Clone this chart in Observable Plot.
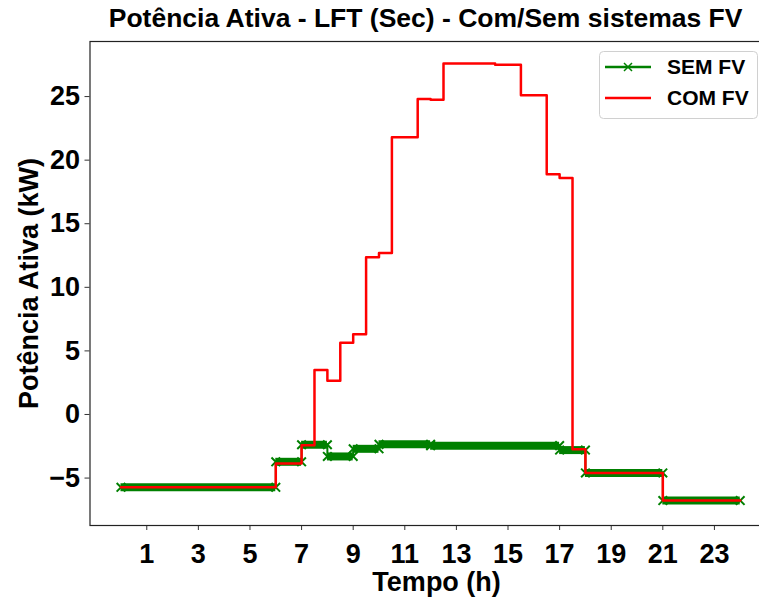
<!DOCTYPE html>
<html>
<head>
<meta charset="utf-8">
<script src="https://cdn.jsdelivr.net/npm/d3@7"></script>
<script src="https://cdn.jsdelivr.net/npm/@observablehq/plot@0.6"></script>
<style>
  html, body { margin: 0; padding: 0; background: white; overflow: hidden; }
  #wrap { position: relative; width: 759px; height: 606px; overflow: hidden; }
  #wrap > svg { max-width: none !important; width: 771px; height: 606px; }
  #legend { position: absolute; left: 599px; top: 51px; }
</style>
</head>
<body>
<div id="wrap"></div>
<script>
// ---- data (hours, half-hour steps) ----
const hours = [0,0.5,1,1.5,2,2.5,3,3.5,4,4.5,5,5.5,6,6.5,7,7.5,8,8.5,9,9.5,10,10.5,11,11.5,12,12.5,13,13.5,14,14.5,15,15.5,16,16.5,17,17.5,18,18.5,19,19.5,20,20.5,21,21.5,22,22.5,23,23.5,24];
const semFV = [-5.73,-5.73,-5.73,-5.73,-5.73,-5.73,-5.73,-5.73,-5.73,-5.73,-5.73,-5.73,
  -3.72,-3.72,-2.38,-2.38,-3.3,-3.3,-2.7,-2.7,-2.35,-2.35,-2.35,-2.35,
  -2.45,-2.45,-2.45,-2.45,-2.45,-2.45,-2.45,-2.45,-2.45,-2.45,-2.8,-2.8,
  -4.6,-4.6,-4.6,-4.6,-4.6,-4.6,-6.77,-6.77,-6.77,-6.77,-6.77,-6.77,-6.77];
const comFV = [-5.73,-5.73,-5.73,-5.73,-5.73,-5.73,-5.73,-5.73,-5.73,-5.73,-5.73,-5.73,
  -3.85,-3.85,-2.42,3.5,2.65,5.65,6.3,12.37,12.7,21.8,21.8,24.8,
  24.75,27.6,27.6,27.6,27.6,27.5,27.5,25.1,25.1,18.9,18.6,-2.73,
  -4.6,-4.6,-4.6,-4.6,-4.6,-4.6,-6.77,-6.77,-6.77,-6.77,-6.77,-6.77,-6.77];
const xTicks = [1,3,5,7,9,11,13,15,17,19,21,23];
const yTicks = [-5,0,5,10,15,20,25];
const seriesNames = ["SEM FV", "COM FV"];
const seriesColors = ["#008000", "#ff0000"];
const titleText = "Potência Ativa - LFT (Sec) - Com/Sem sistemas FV";
const xLabel = "Tempo (h)";
const yLabel = "Potência Ativa (kW)";

// ---- tables built from the arrays ----
const semPts = hours.map((h, i) => ({h, v: semFV[i]}));
const comPts = hours.map((h, i) => ({h, v: comFV[i]}));
// runs of constant value for the SEM FV marker band
const runs = [];
for (let i = 0; i < hours.length - 1; i++) {
  const last = runs[runs.length - 1];
  if (last && last.v === semFV[i]) last.x2 = hours[i + 1];
  else runs.push({x1: hours[i], x2: hours[i + 1], v: semFV[i]});
}
const runEnds = runs.flatMap(r => [{h: r.x1, v: r.v}, {h: r.x2, v: r.v}]);

const FONT = "'Liberation Sans', Arial, Helvetica, sans-serif";

const chart = Plot.plot({
  width: 771,
  height: 606,
  marginLeft: 89.5,
  marginRight: 0.3,
  marginTop: 41,
  marginBottom: 81,
  style: {fontFamily: FONT, fontWeight: "bold", fontSize: "27px", color: "black", background: "white", overflow: "visible", maxWidth: "none"},
  x: {domain: [-1.2, 25.2]},
  y: {domain: [-8.73, 29.33]},
  marks: [
    Plot.axisX(xTicks, {tickSize: 5, tickPadding: 13, label: null, stroke: "#333", fill: "black", fontSize: 27}),
    Plot.axisY(yTicks, {tickSize: 5, tickPadding: 5, label: null, stroke: "#333", fill: "black", fontSize: 27,
      tickFormat: d => d < 0 ? "\u2212" + Math.abs(d) : String(d)}),
    Plot.ruleY(runs, {x1: "x1", x2: "x2", y: "v", stroke: seriesColors[0], strokeWidth: 8}),
    Plot.line(semPts, {x: "h", y: "v", curve: "step-after", stroke: seriesColors[0], strokeWidth: 2}),
    Plot.dot(runEnds, {x: "h", y: "v", symbol: "times", r: 4, stroke: seriesColors[0], strokeWidth: 2}),
    Plot.line(comPts, {x: "h", y: "v", curve: "step-after", stroke: seriesColors[1], strokeWidth: 2.5}),
    Plot.frame({stroke: "#222", strokeWidth: 1.2}),
    Plot.text([titleText], {frameAnchor: "top", dx: -5, dy: -22.5, lineAnchor: "middle", textAnchor: "middle", fontSize: 26.5, fill: "black"}),
    Plot.text([xLabel], {frameAnchor: "bottom", dx: 6, dy: 57, lineAnchor: "middle", textAnchor: "middle", fontSize: 27, fill: "black"}),
    Plot.text([yLabel], {frameAnchor: "left", dx: -61, rotate: -90, lineAnchor: "middle", textAnchor: "middle", fontSize: 27, fill: "black"})
  ]
});
chart.style.maxWidth = "none";

const wrap = document.getElementById("wrap");
wrap.appendChild(chart);

// ---- legend ----
const ns = "http://www.w3.org/2000/svg";
const leg = document.createElementNS(ns, "svg");
leg.setAttribute("id", "legend");
leg.setAttribute("width", 160);
leg.setAttribute("height", 69);
leg.style.fontFamily = FONT;
const box = document.createElementNS(ns, "rect");
box.setAttribute("x", 0.5); box.setAttribute("y", 0.5);
box.setAttribute("width", 158); box.setAttribute("height", 67);
box.setAttribute("rx", 4); box.setAttribute("fill", "white");
box.setAttribute("fill-opacity", 0.8); box.setAttribute("stroke", "#d0d0d0");
leg.appendChild(box);
seriesNames.forEach((name, i) => {
  const cy = 16 + i * 31;
  const ln = document.createElementNS(ns, "line");
  ln.setAttribute("x1", 6); ln.setAttribute("x2", 52);
  ln.setAttribute("y1", cy); ln.setAttribute("y2", cy);
  ln.setAttribute("stroke", seriesColors[i]); ln.setAttribute("stroke-width", 2.5);
  leg.appendChild(ln);
  if (i === 0) {
    const mk = document.createElementNS(ns, "path");
    mk.setAttribute("d", `M25,${cy-4}L33,${cy+4}M25,${cy+4}L33,${cy-4}`);
    mk.setAttribute("stroke", seriesColors[i]); mk.setAttribute("stroke-width", 1.5);
    leg.appendChild(mk);
  }
  const tx = document.createElementNS(ns, "text");
  tx.setAttribute("x", 68); tx.setAttribute("y", cy);
  tx.setAttribute("dy", "0.35em");
  tx.setAttribute("font-size", 21); tx.setAttribute("font-weight", "bold");
  tx.setAttribute("fill", "black");
  tx.textContent = name;
  leg.appendChild(tx);
});
wrap.appendChild(leg);
</script>
</body>
</html>
